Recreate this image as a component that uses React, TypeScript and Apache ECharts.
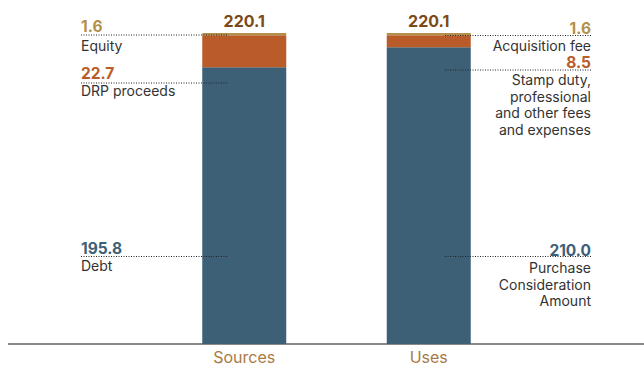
import React, { useEffect, useRef } from "react";
import * as echarts from "echarts";

const categories = ["Sources", "Uses"];
const baseValues = [195.8, 210.0];
const midValues = [22.7, 8.5];
const topValues = [1.6, 1.6];
const totals = [220.1, 220.1];
const sourceLabels = ["Equity", "DRP proceeds", "Debt"];
const useLabels = [
  "Acquisition fee",
  "Stamp duty,\nprofessional\nand other fees\nand expenses",
  "Purchase\nConsideration\nAmount",
];

const BLUE = "#3D6077";
const ORANGE = "#B95C29";
const GOLD = "#B3904A";
const TOTAL = "#7B4A17";
const TEXT = "#333333";
const FONT = "Inter, Roboto, sans-serif";

export default function App() {
  const ref = useRef<HTMLDivElement>(null);
  useEffect(() => {
    if (!ref.current) return;
    const chart = echarts.init(ref.current, null, { renderer: "svg" });

    const numStyle = (color: string) => ({
      fill: color,
      fontSize: 15.5,
      lineHeight: 14,
      fontWeight: "bold",
      fontFamily: FONT,
      textVerticalAlign: "middle",
    });
    const txtStyle = {
      fill: TEXT,
      fontSize: 14,
      fontFamily: FONT,
      lineHeight: 16.5,
    };
    const dot = (x1: number, x2: number, y: number) => ({
      type: "line",
      z: 100,
      shape: { x1, y1: y, x2, y2: y },
      style: { stroke: "#222", lineWidth: 1, lineDash: [1, 1.5] },
    });
    const left = (text: string, x: number, y: number, style: any, va = "middle") => ({
      type: "text",
      x,
      y,
      z: 100,
      style: { ...style, text, textAlign: "left", textVerticalAlign: va },
    });
    const right = (text: string, x: number, y: number, style: any, va = "middle") => ({
      type: "text",
      x,
      y,
      z: 100,
      style: { ...style, text, textAlign: "right", textVerticalAlign: va },
    });

    const graphic: any[] = [
      {
        type: "line",
        shape: { x1: 8, y1: 344, x2: 644, y2: 344 },
        style: { stroke: "#8a8a8a", lineWidth: 2 },
      },
      // Sources side
      left(topValues[0].toFixed(1), 81, 26.5, numStyle(GOLD)),
      dot(81, 228, 35),
      left(sourceLabels[0], 81, 45, txtStyle),
      left(midValues[0].toFixed(1), 81, 73.5, numStyle(ORANGE)),
      dot(81, 228, 83),
      left(sourceLabels[1], 81, 90.5, txtStyle),
      left(baseValues[0].toFixed(1), 81, 248, numStyle(BLUE)),
      dot(81, 228, 256.5),
      left(sourceLabels[2], 81, 265.5, txtStyle),
      // Uses side
      right(topValues[1].toFixed(1), 591, 28, numStyle(GOLD)),
      dot(445, 592, 35.5),
      right(useLabels[0], 591, 45, txtStyle),
      right(midValues[1].toFixed(1), 591, 62.5, numStyle(ORANGE)),
      dot(445, 592, 70),
      right(useLabels[1], 591, 71.5, txtStyle, "top"),
      right(baseValues[1].toFixed(1), 591, 250, numStyle(BLUE)),
      dot(445, 592, 256.5),
      right(useLabels[2], 591, 259.5, txtStyle, "top"),
    ];

    chart.setOption({
      animation: false,
      grid: { left: 152, width: 369, top: 33, bottom: 23 },
      xAxis: {
        type: "category",
        data: categories,
        axisLine: { show: false },
        axisTick: { show: false },
        axisLabel: {
          color: "#A97A45",
          fontSize: 16,
          lineHeight: 16,
          fontFamily: FONT,
          margin: 5,
        },
      },
      yAxis: {
        type: "value",
        min: 0,
        max: 220.1,
        show: false,
        splitLine: { show: false },
      },
      series: [
        {
          type: "bar",
          stack: "a",
          barWidth: 84,
          data: baseValues,
          itemStyle: { color: BLUE },
        },
        {
          type: "bar",
          stack: "a",
          barWidth: 84,
          data: midValues,
          itemStyle: { color: ORANGE },
        },
        {
          type: "bar",
          stack: "a",
          barWidth: 84,
          data: topValues,
          itemStyle: { color: GOLD },
          label: {
            show: true,
            position: "top",
            distance: 4,
            formatter: (p: any) => totals[p.dataIndex].toFixed(1),
            color: TOTAL,
            fontSize: 16,
            fontWeight: "bold",
            fontFamily: FONT,
          },
        },
      ],
      graphic,
    });
    return () => chart.dispose();
  }, []);
  return (
    <div
      ref={ref}
      style={{ position: "fixed", left: 0, top: 0, width: 644, height: 367, background: "#fff" }}
    />
  );
}
